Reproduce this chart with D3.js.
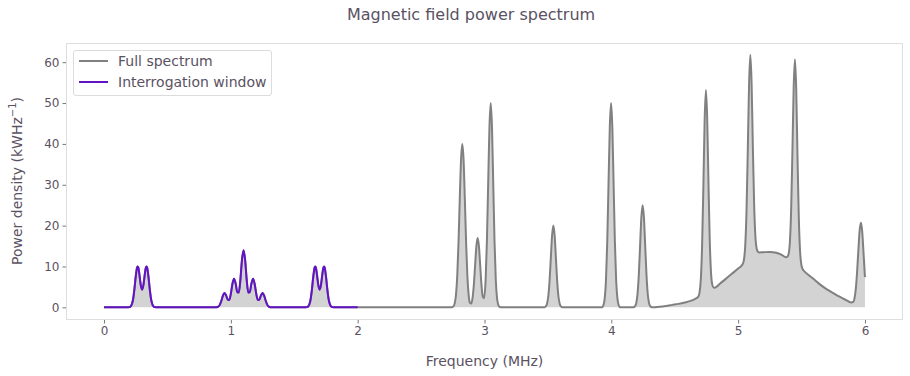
<!DOCTYPE html>
<html><head><meta charset="utf-8">
<script src="https://cdn.jsdelivr.net/npm/d3@7"></script>
<style>body{margin:0;background:#fff}svg{display:block}</style>
</head><body>
<svg id="chart" width="910" height="376"></svg>
<script>
// ---- data ----
const frequencyMHz = [
  0, 0.18, 0.19, 0.20, 0.21, 0.22, 0.23, 0.24, 0.25, 0.26, 0.265, 0.27, 0.28, 0.29, 0.30, 0.31, 0.32, 0.33, 0.335, 0.34, 0.35, 0.36, 0.37, 0.38, 0.39, 0.40, 0.41, 0.42,
  0.875, 0.8875, 0.90, 0.9125, 0.925, 0.9375, 0.95, 0.9625, 0.975, 0.9875, 1.0, 1.0125, 1.025, 1.0375, 1.05, 1.0625, 1.075, 1.0875, 1.10, 1.1125, 1.125, 1.1375, 1.15, 1.1625, 1.175, 1.1875, 1.20, 1.2125, 1.225, 1.2375, 1.25, 1.2625, 1.275, 1.2875, 1.30, 1.3125, 1.325,
  1.58, 1.59, 1.60, 1.61, 1.62, 1.63, 1.64, 1.65, 1.66, 1.665, 1.67, 1.68, 1.69, 1.70, 1.71, 1.72, 1.73, 1.735, 1.74, 1.75, 1.76, 1.77, 1.78, 1.79, 1.80, 1.81, 1.82, 2.0,
  2.74, 2.755, 2.765, 2.775, 2.785, 2.795, 2.805, 2.815, 2.825, 2.835, 2.845, 2.855, 2.865, 2.875, 2.885, 2.895, 2.905, 2.916, 2.926, 2.936, 2.946, 2.956, 2.966, 2.976, 2.986, 2.996, 3.009, 3.019, 3.029, 3.039, 3.049, 3.059, 3.069, 3.079, 3.089, 3.099, 3.109, 3.119, 3.13,
  3.47, 3.483, 3.493, 3.503, 3.513, 3.523, 3.533, 3.543, 3.553, 3.563, 3.573, 3.583, 3.593, 3.603, 3.616,
  3.925, 3.938, 3.948, 3.958, 3.968, 3.978, 3.988, 3.998, 4.008, 4.018, 4.028, 4.038, 4.048, 4.058, 4.071,
  4.174, 4.187, 4.197, 4.207, 4.217, 4.227, 4.237, 4.247, 4.257, 4.267, 4.277, 4.287, 4.297, 4.307, 4.32,
  4.33, 4.38, 4.43, 4.48, 4.53, 4.58, 4.63, 4.676, 4.686, 4.696, 4.706, 4.716, 4.726, 4.736, 4.746, 4.756, 4.766, 4.776, 4.786, 4.796, 4.806, 4.816, 4.86, 4.90, 4.95, 5.0, 5.036, 5.046, 5.056, 5.066, 5.076, 5.086, 5.096, 5.106, 5.116, 5.126, 5.136, 5.146, 5.156, 5.166, 5.20, 5.25, 5.30, 5.34, 5.378, 5.388, 5.398, 5.408, 5.418, 5.428, 5.438, 5.448, 5.458, 5.468, 5.478, 5.488, 5.498, 5.508, 5.518, 5.56, 5.60, 5.65, 5.70, 5.75, 5.80, 5.85, 5.89, 5.908, 5.918, 5.928, 5.938, 5.948, 5.958, 5.968, 5.978, 5.988, 6.0
];
const powerDensity = [
  0, 0, 0.01, 0.05, 0.23, 0.80, 2.16, 4.58, 7.55, 9.70, 10.02, 9.74, 7.78, 5.38, 4.32, 5.38, 7.78, 9.74, 10.02, 9.70, 7.55, 4.58, 2.16, 0.80, 0.23, 0.05, 0.01, 0,
  0, 0.03, 0.15, 0.60, 1.60, 2.88, 3.50, 2.93, 1.91, 1.81, 3.36, 5.79, 7.00, 5.87, 3.82, 3.61, 6.72, 11.57, 14.00, 11.57, 6.72, 3.61, 3.82, 5.87, 7.00, 5.79, 3.36, 1.81, 1.91, 2.93, 3.50, 2.88, 1.60, 0.60, 0.15, 0.03, 0,
  0, 0.01, 0.05, 0.23, 0.80, 2.16, 4.58, 7.55, 9.70, 10.02, 9.74, 7.78, 5.38, 4.32, 5.38, 7.78, 9.74, 10.02, 9.70, 7.55, 4.58, 2.16, 0.80, 0.23, 0.05, 0.01, 0, 0,
  0, 0.25, 0.97, 3.02, 7.66, 15.8, 26.5, 36.1, 40.0, 36.1, 26.5, 15.8, 7.67, 3.06, 1.13, 0.91, 2.13, 5.53, 10.31, 15.0, 17.0, 15.0, 10.32, 5.58, 2.65, 2.24, 6.89, 16.2, 30.3, 44.1, 50.0, 44.1, 30.3, 16.2, 6.77, 2.20, 0.56, 0.11, 0,
  0, 0.22, 0.88, 2.71, 6.49, 12.13, 17.65, 20.0, 17.65, 12.13, 6.49, 2.71, 0.88, 0.22, 0,
  0, 0.56, 2.20, 6.77, 16.2, 30.3, 44.1, 50.0, 44.1, 30.3, 16.2, 6.77, 2.20, 0.56, 0,
  0, 0.28, 1.10, 3.38, 8.12, 15.2, 22.1, 25.0, 22.1, 15.2, 8.12, 3.38, 1.10, 0.28, 0,
  0, 0.15, 0.35, 0.6, 0.85, 1.2, 1.65, 2.32, 2.64, 3.65, 7.0, 15.35, 29.9, 45.9, 53.2, 46.3, 30.7, 16.55, 8.55, 5.55, 4.84, 4.82, 5.9, 6.9, 8.2, 9.5, 10.59, 11.70, 15.11, 23.6, 38.3, 54.4, 61.8, 55.0, 39.5, 25.4, 17.41, 14.40, 13.59, 13.45, 13.5, 13.55, 13.35, 12.9, 12.25, 12.39, 13.05, 15.98, 23.9, 38.15, 53.8, 60.7, 53.35, 37.2, 22.4, 13.93, 10.5, 9.39, 8.95, 7.8, 6.8, 5.5, 4.4, 3.5, 2.6, 1.8, 1.2, 1.33, 2.32, 4.6, 8.66, 13.97, 18.78, 20.7, 18.68, 13.77, 7.4
];
const interrogationWindowMHz = [0, 2];
const xTickValues = [0, 1, 2, 3, 4, 5, 6];
const yTickValues = [0, 10, 20, 30, 40, 50, 60];
const seriesLabels = ["Full spectrum", "Interrogation window"];
const titleText = "Magnetic field power spectrum";
const xLabelText = "Frequency (MHz)";

// ---- build ----
const n = Math.min(frequencyMHz.length, powerDensity.length);
const full = d3.range(n).map(i => ({f: frequencyMHz[i], p: powerDensity[i]}));
const windowPts = full.filter(d => d.f >= interrogationWindowMHz[0] && d.f <= interrogationWindowMHz[1]);

const svg = d3.select("#chart");
const font = "'DejaVu Sans', sans-serif";
const textColor = "#5a5262";
const L = 66, R = 903, T = 43, B = 320;

const x = d3.scaleLinear().domain([-0.3, 6.3]).range([L, R]);
const y = d3.scaleLinear().domain([-3.1, 64.7]).range([B, T]);

svg.append("rect").attr("width", 910).attr("height", 376).attr("fill", "#fff");

// frame
svg.append("rect").attr("x", L + 0.5).attr("y", T + 0.5).attr("width", R - L - 1).attr("height", B - T - 1)
  .attr("fill", "none").attr("stroke", "#dedede").attr("stroke-width", 1);

const curve = d3.curveMonotoneX;
const area = d3.area().x(d => x(d.f)).y0(y(0)).y1(d => y(d.p)).curve(curve);
const line = d3.line().x(d => x(d.f)).y(d => y(d.p)).curve(curve);

svg.append("path").datum(full).attr("d", area).attr("fill", "#d3d3d3");
svg.append("path").datum(full).attr("d", line).attr("fill", "none")
  .attr("stroke", "#808080").attr("stroke-width", 2).attr("stroke-linejoin", "round");
svg.append("path").datum(windowPts).attr("d", line).attr("fill", "none")
  .attr("stroke", "#6214c4").attr("stroke-width", 2).attr("stroke-linejoin", "round");

// axes
const xAxis = svg.append("g").attr("transform", `translate(0,${B})`)
  .call(d3.axisBottom(x).tickValues(xTickValues).tickSize(3.5).tickPadding(3).tickFormat(d3.format("d")));
const yAxis = svg.append("g").attr("transform", `translate(${L},0)`)
  .call(d3.axisLeft(y).tickValues(yTickValues).tickSize(3.5).tickPadding(3).tickFormat(d3.format("d")));
[xAxis, yAxis].forEach(g => {
  g.select(".domain").remove();
  g.selectAll(".tick line").attr("stroke", "#777").attr("stroke-width", 1);
  g.selectAll(".tick text").attr("fill", textColor).style("font-family", font).style("font-size", "12px");
});

// title & labels
svg.append("text").attr("x", 471).attr("y", 14).attr("text-anchor", "middle").attr("dominant-baseline", "central")
  .attr("fill", textColor).style("font-family", font).style("font-size", "16px").text(titleText);
svg.append("text").attr("x", 484.5).attr("y", 361).attr("text-anchor", "middle").attr("dominant-baseline", "central")
  .attr("fill", textColor).style("font-family", font).style("font-size", "14px").text(xLabelText);
const yl = svg.append("text").attr("transform", "translate(17,181) rotate(-90)").attr("text-anchor", "middle")
  .attr("dominant-baseline", "central").attr("fill", textColor).style("font-family", font).style("font-size", "14px");
yl.append("tspan").text("Power density (kWHz");
yl.append("tspan").attr("dy", -5).style("font-size", "10px").text("\u22121");
yl.append("tspan").attr("dy", 5).text(")");

// legend
const lg = svg.append("g");
lg.append("rect").attr("x", 73.5).attr("y", 50.5).attr("width", 198).attr("height", 45).attr("rx", 2.5)
  .attr("fill", "rgba(255,255,255,0.8)").attr("stroke", "#dcdcdc");
const legendColors = ["#808080", "#6214c4"];
seriesLabels.forEach((s, i) => {
  const yy = 61 + i * 21;
  lg.append("line").attr("x1", 79).attr("x2", 108).attr("y1", yy).attr("y2", yy)
    .attr("stroke", legendColors[i]).attr("stroke-width", 2);
  lg.append("text").attr("x", 118).attr("y", yy).attr("dominant-baseline", "central")
    .attr("fill", textColor).style("font-family", font).style("font-size", "14px").text(s);
});
</script>
</body></html>
